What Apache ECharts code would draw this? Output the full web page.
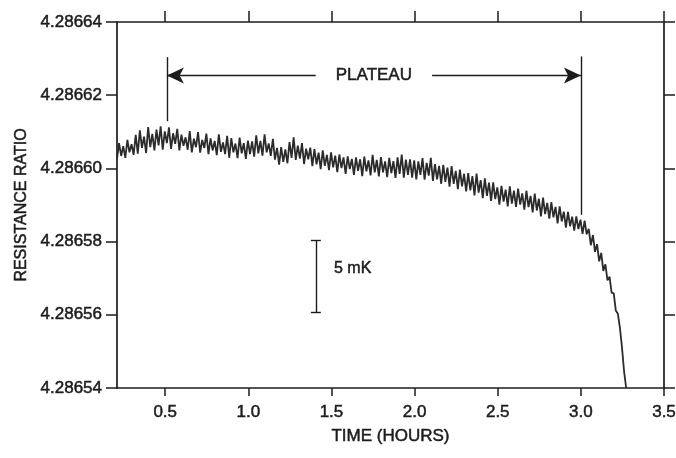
<!DOCTYPE html>
<html>
<head>
<meta charset="utf-8">
<title>Resistance ratio plateau</title>
<script src="https://cdn.jsdelivr.net/npm/echarts@6/dist/echarts.min.js"></script>
<style>
    html, body { margin: 0; padding: 0; background: #fff; }
    #main { width: 676px; height: 458px; }
</style>
</head>
<body>
<div id="main"></div>
<script>
// sample times: recorder trace, one reading every 0.0125 h starting at 0.21 h
var sampleStart = 0.21;
var sampleStep = 0.0125;

// resistance ratio minus 4.28654, in units of 1e-6
var ratioOffsets = [
    // 0.21 - 0.50 h
    62.6, 66.9, 63.4, 66.1, 62.9, 67.8, 64.4, 66.6, 63.7, 69.2,
    64.0, 70.4, 65.6, 68.7, 64.2, 71.3, 65.8, 69.4, 64.9, 70.6,
    66.3, 71.5, 65.1, 70.1,
    // 0.51 - 1.00 h
    66.9, 71.2, 65.3, 69.6, 66.7, 70.8, 64.9, 69.2, 66.2, 68.5,
    65.1, 70.2, 64.4, 68.1, 65.8, 69.9, 64.3, 67.8, 65.6, 69.5,
    63.9, 68.2, 64.9, 67.5, 63.6, 69.3, 64.5, 67.1, 63.9, 68.9,
    62.9, 68.3, 64.4, 66.8, 62.8, 68.4, 64.1, 66.9, 62.6, 67.6,
    // 1.01 - 1.50 h
    63.9, 67.4, 63.2, 69.0, 64.1, 67.5, 63.5, 69.3, 64.4, 66.8,
    63.4, 68.1, 62.4, 65.6, 61.0, 65.8, 61.8, 65.2, 61.4, 67.2,
    62.9, 68.5, 62.3, 66.2, 62.7, 66.9, 61.2, 65.4, 62.5, 65.7,
    60.6, 65.3, 61.1, 64.3, 59.8, 64.9, 60.7, 63.7, 59.5, 64.4,
    // 1.51 - 2.00 h
    60.3, 63.5, 59.0, 63.8, 60.1, 63.0, 58.5, 63.3, 59.8, 62.6,
    58.2, 63.0, 59.3, 62.5, 57.9, 63.2, 59.2, 62.2, 58.1, 63.7,
    58.9, 62.3, 57.8, 63.1, 58.9, 61.9, 57.6, 62.9, 58.7, 62.0,
    57.4, 63.0, 58.5, 63.8, 57.5, 62.4, 58.2, 62.5, 57.5, 62.2,
    // 2.01 - 2.50 h
    57.0, 61.9, 58.2, 62.8, 56.9, 61.5, 58.0, 62.9, 56.6, 61.2,
    57.0, 60.7, 55.8, 61.0, 56.3, 60.2, 55.0, 60.6, 55.8, 59.3,
    54.3, 59.7, 55.1, 58.5, 53.7, 58.7, 54.0, 57.9, 52.6, 58.6,
    53.4, 56.8, 51.9, 57.3, 52.5, 56.1, 51.1, 56.2, 51.6, 54.8,
    // 2.51 - 3.00 h
    50.1, 55.2, 50.9, 54.2, 49.6, 55.1, 50.4, 53.9, 49.5, 54.5,
    50.1, 53.2, 48.7, 53.9, 49.4, 52.5, 48.0, 53.1, 48.5, 51.7,
    46.9, 52.0, 47.5, 50.6, 46.3, 50.8, 46.6, 49.5, 45.0, 49.6,
    45.5, 48.2, 43.8, 48.1, 44.2, 46.8, 43.0, 46.9, 43.4, 46.0,
    // 3.01 h onwards, end of plateau
    42.1, 45.7, 42.0, 43.5, 39.0, 41.8, 37.2, 39.3, 34.6, 36.9,
    32.0, 33.8, 29.4, 30.4, 26.0, 25.9, 21.2, 20.3, 16.4, 11.0,
    4.5, 0.0
];

var xTicks = [0.5, 1.0, 1.5, 2.0, 2.5, 3.0, 3.5];
var yTickLabels = ['4.28654', '4.28656', '4.28658', '4.28660', '4.28662', '4.28664'];

// plateau markers (hours)
var plateauStart = 0.51;
var plateauEnd = 3.0;

var fontName = 'Liberation Sans';
var ink = '#1c1c1c';

var lineData = [];
for (var i = 0; i < ratioOffsets.length; i++) {
    var t = Math.round((sampleStart + i * sampleStep) * 10000) / 10000;
    lineData.push([t, ratioOffsets[i]]);
}

// scanned print looks heavier than the plain font, thicken a bit
var textInk = function (size) {
    return {fontFamily: fontName, fontSize: size, color: ink,
        textBorderColor: ink, textBorderWidth: 0.5};
};

var chartDom = document.getElementById('main');
var myChart = echarts.init(chartDom, null, {renderer: 'canvas'});

var tickAxis = function (pos) {
    var lbl = textInk(17);
    lbl.show = pos == 'bottom';
    lbl.customValues = xTicks;
    lbl.margin = 16;
    lbl.formatter = function (v) { return v.toFixed(1); };
    return {
        type: 'value',
        position: pos,
        min: 0.21,
        max: 3.5,
        axisLine: {show: true, onZero: false, lineStyle: {color: ink, width: 1.7}},
        axisTick: {show: true, inside: false, length: pos == 'top' ? 11 : 8,
            customValues: xTicks, lineStyle: {color: ink, width: 1.5}},
        axisLabel: lbl,
        splitLine: {show: false}
    };
};

var xBottom = tickAxis('bottom');
xBottom.name = 'TIME (HOURS)';
xBottom.nameLocation = 'middle';
xBottom.nameGap = 40;
xBottom.nameTextStyle = textInk(17);

var yLbl = textInk(17);
yLbl.margin = 15;
yLbl.formatter = function (v) { return yTickLabels[Math.round(v / 20)]; };

var option = {
    animation: false,
    backgroundColor: '#fff',
    grid: {left: 117, right: 12, top: 22, bottom: 70, containLabel: false, outerBoundsMode: 'none'},
    xAxis: [xBottom, tickAxis('top')],
    yAxis: [{
        type: 'value',
        position: 'left',
        min: 0,
        max: 100,
        interval: 20,
        name: 'RESISTANCE RATIO',
        nameLocation: 'middle',
        nameGap: 86,
        nameTextStyle: textInk(16),
        axisLine: {show: true, onZero: false, lineStyle: {color: ink, width: 1.7}},
        axisTick: {show: true, length: 11, lineStyle: {color: ink, width: 1.5}},
        axisLabel: yLbl,
        splitLine: {show: false}
    }, {
        type: 'value',
        position: 'right',
        min: 0,
        max: 100,
        interval: 20,
        axisLine: {show: true, onZero: false, lineStyle: {color: ink, width: 1.7}},
        axisTick: {show: true, length: 11, lineStyle: {color: ink, width: 1.5}},
        axisLabel: {show: false},
        splitLine: {show: false}
    }],
    series: [{
        type: 'line',
        data: lineData,
        showSymbol: false,
        silent: true,
        lineStyle: {color: '#2b2b2b', width: 1.8},
        markLine: {
            silent: true,
            symbol: ['none', 'none'],
            label: {show: false},
            lineStyle: {color: ink, width: 1.4, type: 'solid'},
            data: [
                // plateau arrows
                [{coord: [1.405, 85.4]}, {coord: [plateauStart, 85.4], symbol: 'arrow', symbolSize: [12, 17]}],
                [{coord: [2.105, 85.4]}, {coord: [plateauEnd, 85.4], symbol: 'arrow', symbolSize: [12, 17]}],
                [{coord: [plateauStart, 90.4]}, {coord: [plateauStart, 72.9]}],
                [{coord: [plateauEnd, 90.6]}, {coord: [plateauEnd, 47.3]}],
                // 5 mK scale bar
                [{coord: [1.406, 40.4]}, {coord: [1.406, 20.7]}],
                [{coord: [1.376, 40.4]}, {coord: [1.436, 40.4]}],
                [{coord: [1.376, 20.7]}, {coord: [1.436, 20.7]}]
            ]
        },
        markPoint: {
            silent: true,
            symbol: 'circle',
            symbolSize: 0,
            itemStyle: {color: 'rgba(0,0,0,0)'},
            data: [
                {coord: [1.755, 85.4], label: Object.assign(textInk(17),
                    {show: true, position: 'inside', formatter: 'PLATEAU'})},
                {coord: [1.515, 32.6], label: Object.assign(textInk(16),
                    {show: true, position: 'right', distance: 0, formatter: '5 mK'})}
            ]
        }
    }]
};

myChart.setOption(option);
</script>
</body>
</html>
